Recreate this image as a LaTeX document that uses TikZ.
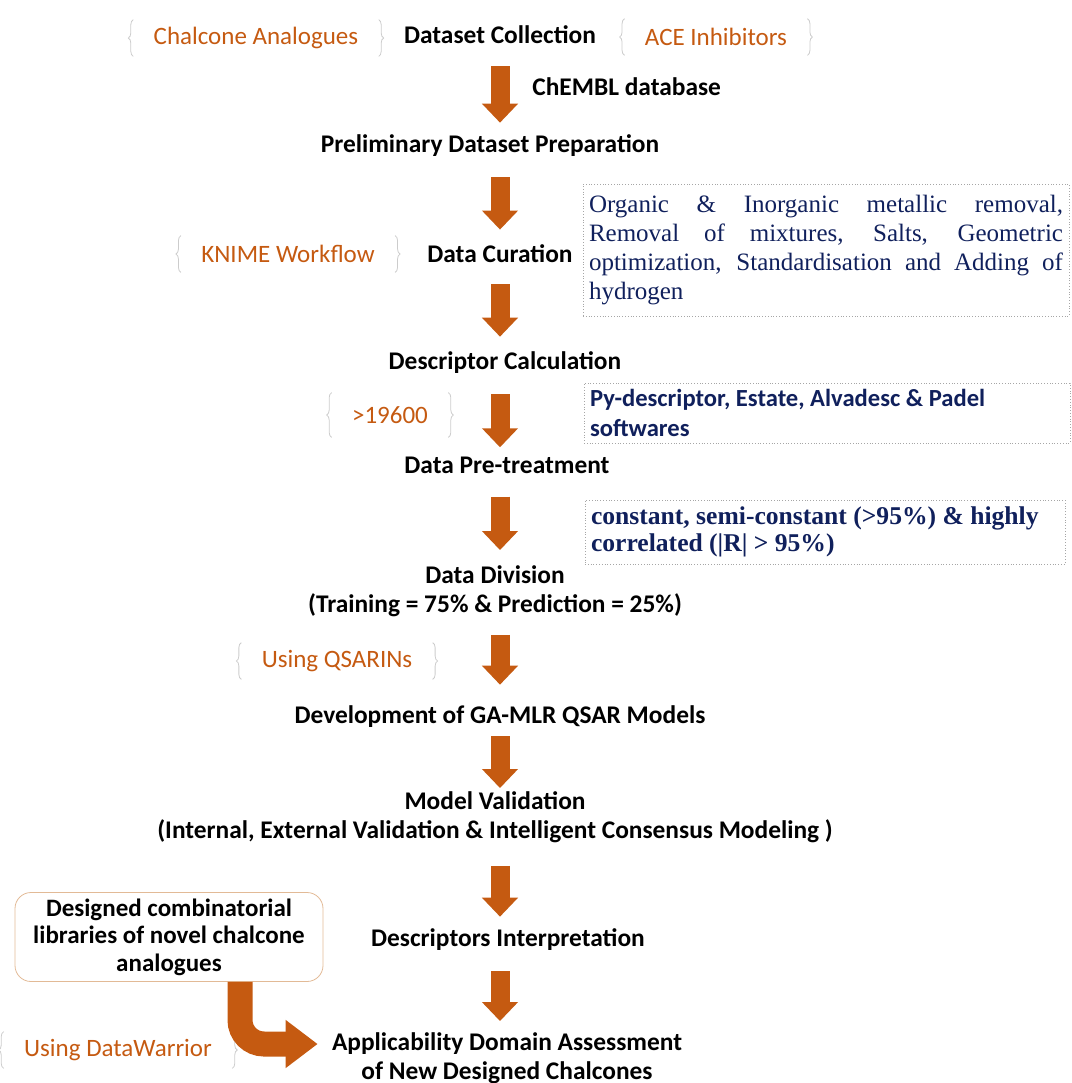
\documentclass[tikz,border=0pt]{standalone}
\usepackage{fontspec}
\setmainfont{Carlito}
\newfontfamily\timesfont{Liberation Serif}
\usetikzlibrary{positioning, arrows.meta, decorations.pathreplacing}
\definecolor{rust}{RGB}{197,90,17}
\definecolor{navy}{RGB}{16,32,92}
\definecolor{tan}{RGB}{226,186,150}
\tikzset{
	x=0.5pt, y=-0.5pt,
	stage/.style= {
		font=\bfseries\fontsize{12.7}{14.5}\selectfont,
		align=center,
		inner sep=1pt
	},
	tag/.style= {
		text=rust,
		font=\fontsize{12.5}{14.5}\selectfont,
		inner xsep=10pt,
		minimum height=18pt
	},
	note/.style= {
		rectangle,
		draw=gray!70,
		densely dotted,
		text=navy,
		inner xsep=3pt,
		inner ysep=3pt
	},
	brc/.style= {
		draw=gray!40,
		line width=0.4pt,
		decorate,
		decoration={brace, amplitude=2.5pt}
	},
	flow/.style= {
		draw=rust,
		line width=9.5pt,
		-{Triangle[width=17.5pt, length=9.5pt]}
	}
}

\begin{document}
\begin{tikzpicture}

	\useasboundingbox (0,0) rectangle (1072,1083);
	\coordinate (spine) at (500,0);

	% main chain
	\node (collect)[stage] at (500,35) {Dataset Collection};
	\node (prelim)[stage] at (490,146) {Preliminary Dataset Preparation};
	\node (curation)[stage] at (500,254) {Data Curation};
	\node (desccalc)[stage] at (505,363) {Descriptor Calculation};
	\node (pretreat)[stage] at (507,465) {Data Pre-treatment};
	\node (division)[stage] at (495,591) {Data Division\\(Training = 75\% \& Prediction = 25\%)};
	\node (develop)[stage] at (500,717) {Development of GA-MLR QSAR Models};
	\node (validation)[stage] at (495,817) {Model Validation\\(Internal, External Validation \& Intelligent Consensus Modeling )};
	\node (interp)[stage] at (508,940) {Descriptors Interpretation};
	\node (domain)[stage] at (507,1058) {Applicability Domain Assessment\\of New Designed Chalcones};

	\node (chembl)[stage, anchor=west] at (530,87) {ChEMBL database};

	\foreach \a/\b/\s/\e in {collect/prelim/10/5, prelim/curation/9/6.5, curation/desccalc/9.5/6.5,
		desccalc/pretreat/9/3.5, pretreat/division/10.5/6.5, division/develop/8/9.5,
		develop/validation/3/0.5, validation/interp/10.5/5, interp/domain/9/4.5}
	{
		\draw[flow, shorten <=\s pt, shorten >=\e pt] (\a.south -| spine) -- (\b.north -| spine);
	}

	% side tags
	\node (chalcone)[tag] at (256,38) {Chalcone Analogues};
	\node (ace)[tag] at (716,37) {ACE Inhibitors};
	\node (knime)[tag] at (288,254) {KNIME Workflow};
	\node (count)[tag, minimum height=22pt] at (390,415) {>19600};
	\node (qsarin)[tag] at (337,661) {Using QSARINs};
	\node (warrior)[tag] at (118,1050) {Using DataWarrior};

	\foreach \t in {chalcone, ace, knime, count, qsarin, warrior}
	{
		\draw[brc] (\t.south west) -- (\t.north west);
		\draw[brc] (\t.north east) -- (\t.south east);
	}

	% notes
	\node (curenote)[note, text width=237pt, minimum height=66pt, align=justify,
		font=\timesfont\fontsize{12.5}{14.5}\selectfont] at (826,250)
		{\hyphenpenalty=10000\relax Organic \& Inorganic metallic removal,\linebreak Removal of mixtures, Salts, Geometric\linebreak optimization, Standardisation and Adding of\linebreak hydrogen};
	\node (softnote)[note, text width=237pt, minimum height=30pt, align=flush left,
		font=\bfseries\fontsize{12.3}{15}\selectfont] at (827,413)
		{Py-descriptor, Estate, Alvadesc \& Padel\\softwares};
	\node (filtnote)[note, text width=234pt, minimum height=32pt, align=flush left,
		font=\timesfont\bfseries\fontsize{12.8}{13.5}\selectfont] at (825,532)
		{constant, semi-constant (>95\%) \& highly\\correlated (|R| > 95\%)};

	% combinatorial library
	\node (library)[draw=tan, rounded corners=8pt, minimum width=154pt, minimum height=44.5pt,
		align=center, font=\bfseries\fontsize{12.5}{13.8}\selectfont, inner sep=2pt] at (169,937)
		{Designed combinatorial\\libraries of novel chalcone\\analogues};
	\coordinate (bendx) at (240,0);
	\draw[draw=rust, line width=12.5pt, rounded corners=12pt,
		-{Triangle[width=23pt, length=16pt]}, shorten >=6pt]
		(library.south -| bendx) |- ([yshift=7pt]domain.west);

\end{tikzpicture}
\end{document}
